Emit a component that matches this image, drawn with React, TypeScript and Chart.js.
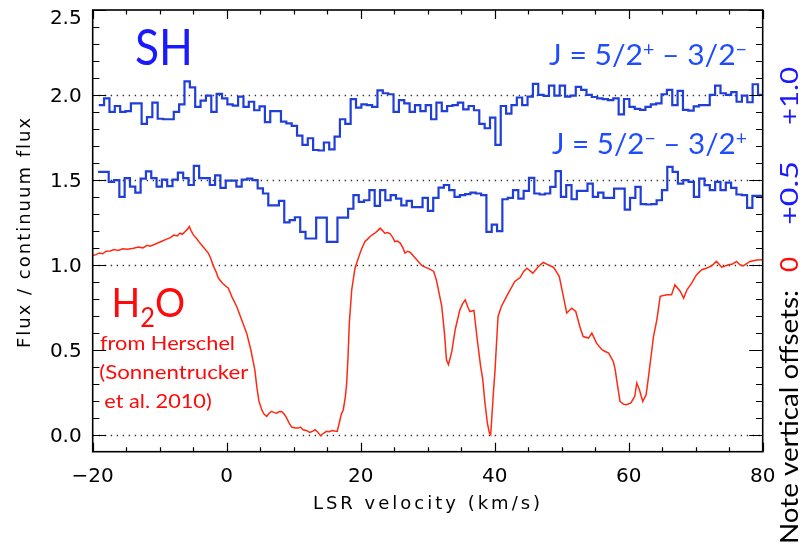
import React, { useEffect, useRef } from 'react';
import { Chart, registerables } from 'chart.js';

Chart.register(...registerables);

// ---------- axes ----------
const X_MIN = -20;
const X_MAX = 80;
const Y_MIN = -0.1;
const Y_MAX = 2.5;
const X_TICKS = [-20, 0, 20, 40, 60, 80];
const Y_TICKS = [0, 0.5, 1.0, 1.5, 2.0, 2.5];
const X_MINOR_STEP = 5;
const Y_MINOR_STEP = 0.1;
const REF_LEVELS = [0, 1.0, 1.5, 2.0];

// ---------- SH J = 5/2+ - 3/2- (offset +1.0), channel grid ----------
const SH_UPPER_START = -19.1;
const SH_UPPER_WIDTH = 0.8;
const SH_UPPER = [
  1.94, 1.98, 1.90, 1.935, 1.90, 1.905, 1.95, 1.95, 1.83, 1.87,
  1.955, 1.86, 1.857, 1.857, 1.90, 1.945, 2.08, 2.045, 1.93, 1.967,
  1.996, 1.90, 2.006, 1.98, 1.945, 1.937, 1.99, 1.93, 1.96, 1.91,
  1.933, 1.84, 1.905, 1.905, 1.843, 1.833, 1.818, 1.76, 1.706, 1.745,
  1.676, 1.673, 1.72, 1.68, 1.755, 1.857, 1.83, 1.975, 1.925, 1.945,
  1.94, 1.93, 2.027, 2.01, 2.004, 1.90, 1.97, 1.95, 1.90, 1.94,
  1.905, 1.94, 1.857, 1.955, 1.905, 1.935, 1.94, 1.955, 1.915, 1.935,
  1.91, 1.83, 1.804, 1.867, 1.706, 1.935, 1.89, 1.94, 1.985, 1.94,
  1.99, 2.065, 2.0, 1.995, 2.055, 1.996, 2.055, 1.99, 1.996, 2.047,
  2.03, 2.0, 1.988, 1.98, 1.975, 1.97, 1.98, 1.886, 1.976, 1.93,
  1.918, 1.912, 1.93, 1.945, 1.95, 2.004, 2.03, 1.94, 2.024, 1.912,
  1.908, 1.933, 1.94, 1.94, 2.0, 2.055, 2.01, 2.0, 2.016, 1.96,
  1.996, 1.957, 2.063, 2.0,
];

// ---------- SH J = 5/2- - 3/2+ (offset +0.5) ----------
const SH_LOWER_START = -19.2;
const SH_LOWER_WIDTH = 0.794;
const SH_LOWER = [
  1.547, 1.547, 1.488, 1.498, 1.40, 1.51, 1.46, 1.425, 1.508, 1.55,
  1.51, 1.46, 1.502, 1.463, 1.502, 1.543, 1.51, 1.47, 1.582, 1.51,
  1.51, 1.47, 1.527, 1.453, 1.496, 1.496, 1.46, 1.502, 1.508, 1.498,
  1.45, 1.42, 1.35, 1.35, 1.376, 1.25, 1.263, 1.28, 1.194, 1.155,
  1.155, 1.278, 1.278, 1.135, 1.135, 1.278, 1.278, 1.33, 1.41, 1.37,
  1.38, 1.44, 1.347, 1.44, 1.38, 1.41, 1.39, 1.35, 1.376, 1.34,
  1.34, 1.394, 1.318, 1.394, 1.455, 1.47, 1.44, 1.40, 1.41, 1.416,
  1.425, 1.42, 1.41, 1.194, 1.237, 1.198, 1.386, 1.394, 1.44, 1.39,
  1.435, 1.512, 1.42, 1.414, 1.42, 1.459, 1.551, 1.40, 1.469, 1.386,
  1.435, 1.435, 1.478, 1.40, 1.425, 1.394, 1.394, 1.449, 1.449, 1.325,
  1.394, 1.459, 1.357, 1.355, 1.357, 1.38, 1.44, 1.576, 1.547, 1.478,
  1.498, 1.488, 1.40, 1.508, 1.469, 1.44, 1.488, 1.44, 1.484, 1.453,
  1.414, 1.41, 1.335, 1.406, 1.406,
];

// ---------- H2O (Herschel, no offset) ----------
const H2O_VEL = [
  -20.0, -19.5, -19.0, -18.5, -18.0, -17.4, -16.8, -16.2, -15.5, -14.8,
  -13.9, -13.2, -12.5, -11.9, -11.45, -10.8, -10.2, -9.6, -8.96, -8.4,
  -7.9, -7.4, -6.97, -6.6, -6.2, -5.85, -5.58, -5.3, -4.98, -4.5,
  -3.99, -3.4, -2.75, -2.4, -2.0, -1.6, -1.25, -0.6, 0.24, 0.8,
  1.49, 2.2, 2.98, 3.6, 4.2, 4.5, 4.8, 5.22, 5.6, 5.97,
  6.3, 6.7, 7.1, 7.46, 7.8, 8.2, 8.6, 8.96, 9.3, 9.7,
  10.2, 10.7, 11.0, 11.4, 11.9, 12.4, 12.8, 13.2, 13.6, 14.0,
  14.5, 14.9, 15.3, 15.7, 16.1, 16.5, 16.8, 17.1, 17.4, 17.7,
  17.9, 18.1, 18.3, 18.66, 19.15, 19.64, 20.1, 20.64, 21.0, 21.4,
  22.1, 22.5, 22.9, 23.3, 23.6, 24.0, 24.4, 24.8, 25.1, 25.5,
  25.9, 26.3, 26.6, 27.0, 27.4, 27.9, 28.4, 29.1, 29.7, 30.3,
  30.9, 31.3, 31.6, 32.1, 32.5, 32.8, 33.1, 33.6, 34.1, 34.8,
  35.2, 35.6, 36.0, 36.3, 36.9, 37.4, 37.9, 38.2, 38.55, 38.9,
  39.2, 39.4, 39.55, 39.8, 40.05, 40.3, 40.5, 41.0, 41.5, 42.3,
  43.0, 43.8, 44.3, 44.8, 45.7, 46.3, 46.8, 47.25, 48.0, 48.75,
  49.2, 49.64, 50.15, 50.75, 51.1, 51.5, 52.1, 52.7, 53.2, 54.0,
  54.5, 55.2, 56.0, 56.5, 57.0, 57.7, 58.0, 58.2, 58.7, 59.2,
  59.6, 60.3, 60.9, 61.2, 61.6, 62.1, 62.6, 62.9, 63.3, 63.7,
  64.2, 64.7, 65.2, 65.7, 66.4, 66.9, 67.7, 68.2, 68.7, 69.4,
  70.1, 70.9, 71.6, 72.4, 73.1, 73.9, 74.9, 75.5, 76.1, 76.6,
  77.1, 78.1, 79.1, 80.0,
];
const H2O_FLUX = [
  1.055, 1.06, 1.07, 1.065, 1.08, 1.082, 1.09, 1.085, 1.095, 1.092,
  1.098, 1.105, 1.10, 1.115, 1.11, 1.12, 1.13, 1.14, 1.151, 1.16,
  1.175, 1.17, 1.186, 1.18, 1.196, 1.21, 1.225, 1.20, 1.176, 1.155,
  1.128, 1.10, 1.069, 1.04, 0.994, 0.96, 0.922, 0.89, 0.863, 0.81,
  0.755, 0.68, 0.598, 0.50, 0.382, 0.28, 0.20, 0.147, 0.12, 0.108,
  0.125, 0.137, 0.13, 0.127, 0.135, 0.137, 0.12, 0.098, 0.07, 0.045,
  0.04, 0.039, 0.045, 0.029, 0.025, 0.014, 0.02, 0.029, 0.015, -0.006,
  0.01, 0.02, 0.018, 0.025, 0.022, 0.02, 0.069, 0.12, 0.147, 0.22,
  0.30, 0.45, 0.657, 0.853, 0.98, 1.039, 1.09, 1.137, 1.15, 1.167,
  1.186, 1.20, 1.216, 1.20, 1.186, 1.19, 1.182, 1.16, 1.137, 1.14,
  1.128, 1.10, 1.069, 1.08, 1.073, 1.05, 1.029, 0.996, 0.985, 0.975,
  0.961, 0.91, 0.853, 0.755, 0.598, 0.441, 0.412, 0.49, 0.618, 0.735,
  0.77, 0.794, 0.75, 0.725, 0.731, 0.559, 0.402, 0.33, 0.186, 0.069,
  0.01, 0.0, 0.088, 0.245, 0.38, 0.559, 0.696, 0.755, 0.794, 0.853,
  0.902, 0.925, 0.96, 0.98, 0.951, 0.98, 1.0, 1.014, 1.0, 0.986,
  0.96, 0.931, 0.833, 0.716, 0.73, 0.745, 0.725, 0.637, 0.578, 0.569,
  0.598, 0.539, 0.50, 0.49, 0.48, 0.431, 0.38, 0.324, 0.196, 0.18,
  0.176, 0.186, 0.225, 0.304, 0.265, 0.196, 0.235, 0.324, 0.45, 0.578,
  0.676, 0.814, 0.82, 0.824, 0.824, 0.882, 0.843, 0.804, 0.853, 0.892,
  0.941, 0.971, 0.98, 0.994, 1.02, 0.986, 1.0, 1.005, 1.02, 1.0,
  0.994, 1.02, 1.029, 1.03,
];

// ---------- colours / fonts ----------
const BLUE_LINE = '#1f3fd8';
const RED_LINE = '#ff2a12';
const BLUE_TEXT = '#1a1aff';
const BLUE_TEXT2 = '#1f4cff';
const RED_TEXT = '#ff0a0a';
const AXIS_FONT = '"DejaVu Sans", sans-serif';
const NOTE_FONT = 'Lato, "Open Sans", sans-serif';

function steppedPoints(start: number, width: number, vals: number[]) {
  const pts = vals.map((v, i) => ({ x: start + i * width, y: v }));
  pts.push({ x: start + vals.length * width, y: vals[vals.length - 1] });
  return pts;
}

function fmtX(v: number) {
  return v < 0 ? '\u2212' + Math.abs(v) : String(v);
}

type Part = { t: string; size: number; dy?: number; color?: string };

function drawRich(ctx: CanvasRenderingContext2D, parts: Part[], x: number, y: number, targetW: number, color: string) {
  let w = 0;
  for (const p of parts) {
    ctx.font = `${p.size}px ${NOTE_FONT}`;
    w += ctx.measureText(p.t).width;
  }
  const sx = targetW > 0 ? targetW / w : 1;
  ctx.save();
  ctx.translate(x, y);
  ctx.scale(sx, 1);
  ctx.textAlign = 'left';
  ctx.textBaseline = 'alphabetic';
  let cx = 0;
  for (const p of parts) {
    ctx.font = `${p.size}px ${NOTE_FONT}`;
    ctx.fillStyle = p.color || color;
    ctx.fillText(p.t, cx, p.dy || 0);
    cx += ctx.measureText(p.t).width;
  }
  ctx.restore();
}

const decorPlugin = {
  id: 'decor',
  beforeDatasetsDraw(chart: any) {
    const { ctx, chartArea: a, scales } = chart;
    const y = scales.y;
    ctx.save();
    ctx.strokeStyle = '#333';
    ctx.lineWidth = 1.3;
    ctx.setLineDash([1.4, 4.6]);
    for (const lv of REF_LEVELS) {
      const py = Math.round(y.getPixelForValue(lv)) + 0.5;
      ctx.beginPath();
      ctx.moveTo(a.left, py);
      ctx.lineTo(a.right, py);
      ctx.stroke();
    }
    ctx.restore();
  },
  afterDatasetsDraw(chart: any) {
    const { ctx, chartArea: a, scales } = chart;
    const x = scales.x;
    const y = scales.y;
    ctx.save();
    // frame
    ctx.strokeStyle = '#000';
    ctx.lineWidth = 1.6;
    ctx.setLineDash([]);
    ctx.strokeRect(a.left, a.top, a.right - a.left, a.bottom - a.top);
    // inward ticks
    ctx.lineWidth = 1.2;
    ctx.beginPath();
    const nX = Math.round((X_MAX - X_MIN) / X_MINOR_STEP);
    for (let i = 0; i <= nX; i++) {
      const v = X_MIN + i * X_MINOR_STEP;
      const major = X_TICKS.includes(v);
      const len = major ? 9 : 4.5;
      const px = Math.round(x.getPixelForValue(v)) + 0.5;
      ctx.moveTo(px, a.bottom);
      ctx.lineTo(px, a.bottom - len);
      ctx.moveTo(px, a.top);
      ctx.lineTo(px, a.top + len);
    }
    const nY = Math.round((Y_MAX - 0) / Y_MINOR_STEP);
    for (let i = 0; i <= nY; i++) {
      const v = i * Y_MINOR_STEP;
      const major = Y_TICKS.some((t) => Math.abs(t - v) < 1e-6);
      const len = major ? 13.5 : 6.7;
      const py = Math.round(y.getPixelForValue(v)) + 0.5;
      ctx.moveTo(a.left, py);
      ctx.lineTo(a.left + len, py);
      ctx.moveTo(a.right, py);
      ctx.lineTo(a.right - len, py);
    }
    ctx.stroke();

    // y tick labels (kept inside the frame's vertical extent)
    ctx.fillStyle = '#000';
    ctx.font = `20px ${AXIS_FONT}`;
    ctx.textAlign = 'right';
    ctx.textBaseline = 'middle';
    for (const t of Y_TICKS) {
      const py = Math.max(y.getPixelForValue(t) + 1.7, a.top + 8.5);
      ctx.fillText(t.toFixed(1), a.left - 11, py);
    }

    // axis titles
    ctx.font = `18px ${AXIS_FONT}`;
    (ctx as any).letterSpacing = '3px';
    ctx.textAlign = 'center';
    ctx.textBaseline = 'alphabetic';
    ctx.fillText('LSR velocity (km/s)', 428, 509);
    ctx.save();
    ctx.translate(30, 232);
    ctx.rotate(-Math.PI / 2);
    (ctx as any).letterSpacing = '2px';
    ctx.fillText('Flux / continuum flux', 0, 0);
    ctx.restore();
    (ctx as any).letterSpacing = '0px';

    // annotations
    drawRich(ctx, [{ t: 'SH', size: 50 }], 135, 65, 58, BLUE_TEXT);
    drawRich(
      ctx,
      [
        { t: 'J = 5/2', size: 29 },
        { t: '+', size: 19, dy: -9.5 },
        { t: ' \u2013 3/2', size: 29 },
        { t: '\u2212', size: 19, dy: -9.5 },
      ],
      549,
      65,
      198,
      BLUE_TEXT2
    );
    drawRich(
      ctx,
      [
        { t: 'J = 5/2', size: 29 },
        { t: '\u2212', size: 19, dy: -9.5 },
        { t: ' \u2013 3/2', size: 29 },
        { t: '+', size: 19, dy: -9.5 },
      ],
      552,
      154,
      195,
      BLUE_TEXT2
    );
    drawRich(
      ctx,
      [
        { t: 'H', size: 40 },
        { t: '2', size: 27, dy: 10 },
        { t: 'O', size: 40 },
      ],
      111.5,
      317,
      73.5,
      RED_TEXT
    );
    drawRich(ctx, [{ t: 'from Herschel', size: 20 }], 100, 349.5, 135, RED_TEXT);
    drawRich(ctx, [{ t: '(Sonnentrucker', size: 20 }], 99.3, 378.5, 149, RED_TEXT);
    drawRich(ctx, [{ t: 'et al. 2010)', size: 20 }], 104.3, 407.5, 107.4, RED_TEXT);

    // right-hand rotated note
    ctx.save();
    ctx.translate(798, 544);
    ctx.rotate(-Math.PI / 2);
    drawRich(ctx, [{ t: 'Note vertical offsets:', size: 25 }], 0, 0, 254, '#000');
    drawRich(ctx, [{ t: '0', size: 25 }], 272, 0, 15, RED_TEXT);
    drawRich(ctx, [{ t: '+0.5', size: 25 }], 319, 0, 64, BLUE_TEXT);
    drawRich(ctx, [{ t: '+1.0', size: 25 }], 419, 0, 58, BLUE_TEXT);
    ctx.restore();

    ctx.restore();
  },
};

const noPad = (s: any) => {
  s.paddingTop = 0;
  s.paddingBottom = 0;
  s.paddingLeft = 0;
  s.paddingRight = 0;
};

export default function App() {
  const ref = useRef<HTMLCanvasElement>(null);

  useEffect(() => {
    const canvas = ref.current;
    if (!canvas) return;
    const chart = new Chart(canvas, {
      type: 'line',
      data: {
        datasets: [
          {
            label: 'SH 5/2- - 3/2+ (+0.5)',
            data: steppedPoints(SH_LOWER_START, SH_LOWER_WIDTH, SH_LOWER),
            borderColor: BLUE_LINE,
            borderWidth: 2.2,
            stepped: true,
            pointRadius: 0,
            fill: false,
            xAxisID: 'x',
            yAxisID: 'y',
          },
          {
            label: 'SH 5/2+ - 3/2- (+1.0)',
            data: steppedPoints(SH_UPPER_START, SH_UPPER_WIDTH, SH_UPPER),
            borderColor: BLUE_LINE,
            borderWidth: 2.2,
            stepped: true,
            pointRadius: 0,
            fill: false,
            xAxisID: 'x',
            yAxisID: 'y',
          },
          {
            label: 'H2O',
            data: H2O_VEL.map((v, i) => ({ x: v, y: H2O_FLUX[i] })),
            borderColor: RED_LINE,
            borderWidth: 1.5,
            tension: 0,
            pointRadius: 0,
            fill: false,
            xAxisID: 'x',
            yAxisID: 'y',
          },
        ],
      },
      options: {
        responsive: false,
        animation: false,
        devicePixelRatio: 1,
        layout: { padding: 0 },
        plugins: { legend: { display: false }, tooltip: { enabled: false }, title: { display: false } },
        scales: {
          x: {
            type: 'linear',
            position: 'bottom',
            min: X_MIN,
            max: X_MAX,
            afterBuildTicks: (s: any) => {
              s.ticks = X_TICKS.map((v) => ({ value: v }));
            },
            afterFit: (s: any) => {
              s.height = 95.3;
              noPad(s);
            },
            grid: { display: false, drawTicks: false },
            border: { display: false },
            ticks: {
              color: '#000',
              padding: 13,
              maxRotation: 0,
              autoSkip: false,
              font: { family: AXIS_FONT, size: 20 },
              callback: (v: any) => fmtX(Number(v)),
            },
          },
          x2: {
            type: 'linear',
            position: 'top',
            min: X_MIN,
            max: X_MAX,
            afterFit: (s: any) => {
              s.height = 10;
              noPad(s);
            },
            grid: { display: false, drawTicks: false },
            border: { display: false },
            ticks: { display: false },
          },
          y: {
            type: 'linear',
            position: 'left',
            min: Y_MIN,
            max: Y_MAX,
            afterBuildTicks: (s: any) => {
              s.ticks = Y_TICKS.map((v) => ({ value: v }));
            },
            afterFit: (s: any) => {
              s.width = 92.7;
              noPad(s);
            },
            grid: { display: false, drawTicks: false },
            border: { display: false },
            ticks: { display: false },
          },
          y2: {
            type: 'linear',
            position: 'right',
            min: Y_MIN,
            max: Y_MAX,
            afterFit: (s: any) => {
              s.width = 41.3;
              noPad(s);
            },
            grid: { display: false, drawTicks: false },
            border: { display: false },
            ticks: { display: false },
          },
        },
      } as any,
      plugins: [decorPlugin],
    });
    return () => chart.destroy();
  }, []);

  return (
    <div style={{ position: 'absolute', left: 0, top: 0, width: 804, height: 547, background: '#fff' }}>
      <canvas ref={ref} width={804} height={547} style={{ display: 'block', width: 804, height: 547 }} />
    </div>
  );
}
